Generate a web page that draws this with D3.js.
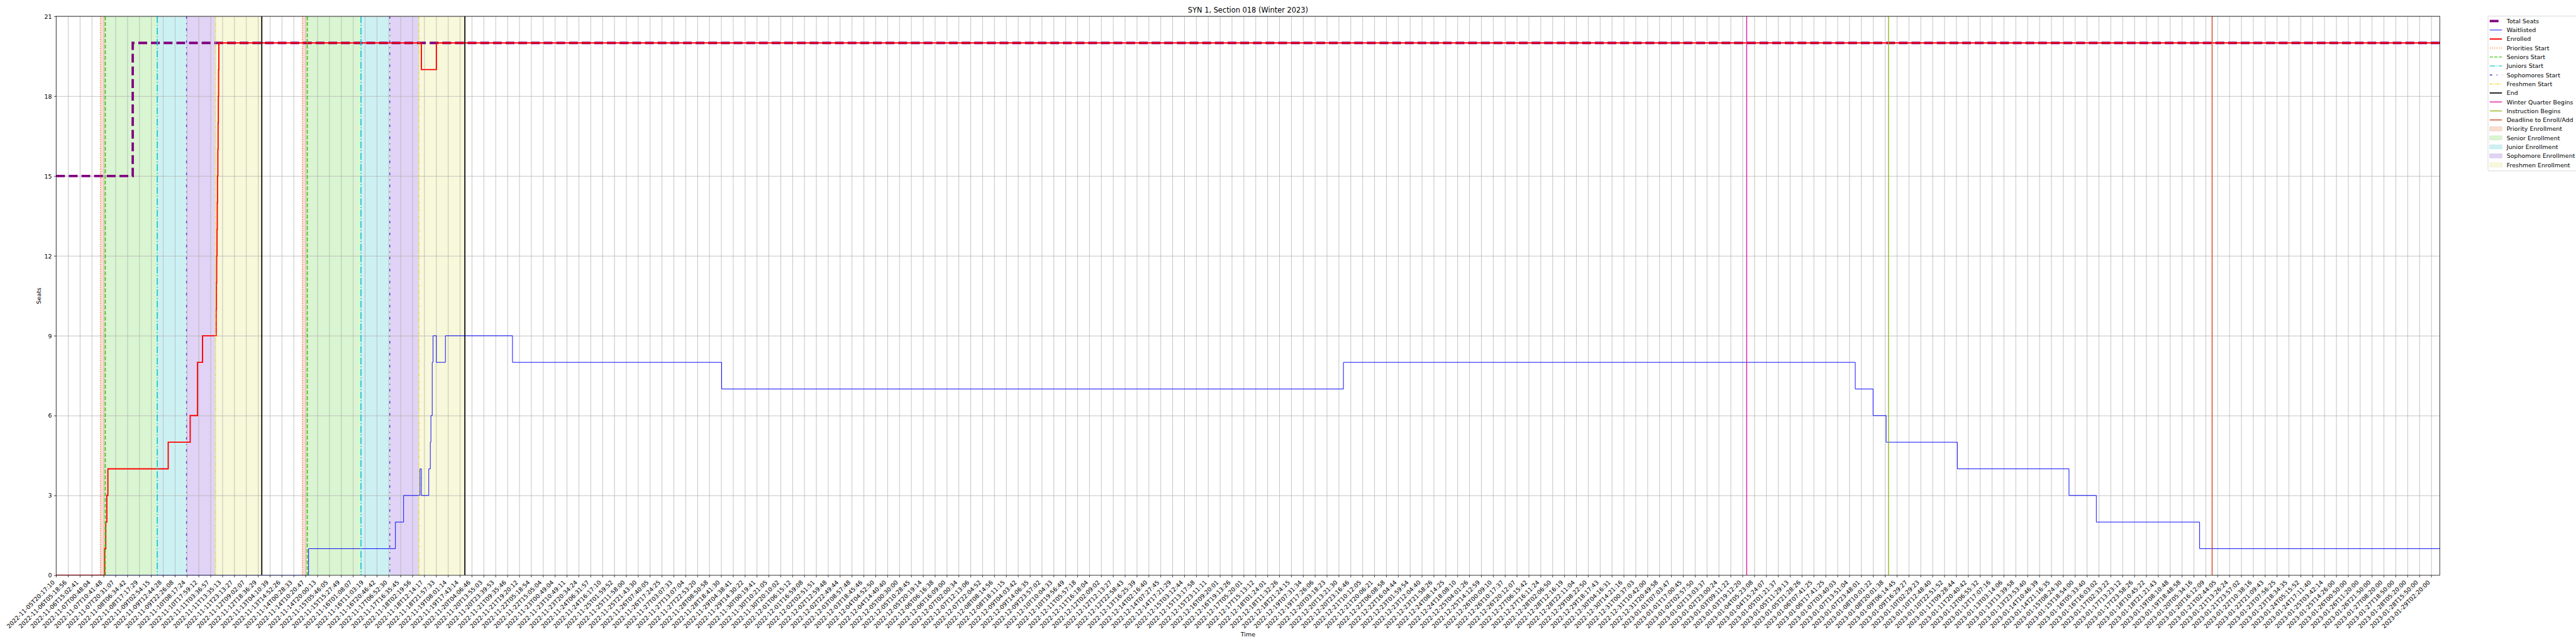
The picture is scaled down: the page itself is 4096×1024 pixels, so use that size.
<!DOCTYPE html>
<html><head><meta charset="utf-8">
<script src="https://cdn.jsdelivr.net/npm/d3@7"></script>
<style>body{margin:0;background:#fff}svg{display:block}text{font-family:"DejaVu Sans",sans-serif;fill:#000}</style>
</head><body><svg id="c" width="4096" height="1024"></svg>
<script>
// ---------------- data ----------------
const title = "SYN 1, Section 018 (Winter 2023)";
const tickLabels = [
"2022-11-05T20:17:10","2022-11-06T05:18:56","2022-11-06T15:02:41","2022-11-07T00:48:04","2022-11-07T10:41:48",
"2022-11-07T20:31:07","2022-11-08T06:34:42","2022-11-08T17:17:29","2022-11-09T02:54:15","2022-11-09T12:44:28",
"2022-11-09T22:26:08","2022-11-10T08:17:24","2022-11-10T17:59:12","2022-11-11T03:36:57","2022-11-11T13:35:13",
"2022-11-11T23:13:27","2022-11-12T09:02:07","2022-11-12T18:36:29","2022-11-13T04:10:39","2022-11-13T14:52:26",
"2022-11-14T00:28:33","2022-11-14T10:20:47","2022-11-14T20:00:13","2022-11-15T05:46:05","2022-11-15T15:27:49",
"2022-11-16T01:08:07","2022-11-16T11:03:19","2022-11-16T20:46:42","2022-11-17T06:52:30","2022-11-17T16:35:45",
"2022-11-18T02:19:56","2022-11-18T12:14:17","2022-11-18T21:57:33","2022-11-19T08:01:14","2022-11-19T17:43:14",
"2022-11-20T04:06:46","2022-11-20T13:55:03","2022-11-20T23:39:53","2022-11-21T09:35:46","2022-11-21T19:20:12",
"2022-11-22T05:18:54","2022-11-22T15:05:04","2022-11-23T00:49:04","2022-11-23T10:49:11","2022-11-23T20:34:24",
"2022-11-24T06:31:57","2022-11-24T16:17:10","2022-11-25T01:59:52","2022-11-25T11:58:00","2022-11-25T21:43:30",
"2022-11-26T07:40:05","2022-11-26T17:24:25","2022-11-27T03:07:33","2022-11-27T13:07:04","2022-11-27T22:53:20",
"2022-11-28T08:50:58","2022-11-28T18:41:30","2022-11-29T04:38:41","2022-11-29T14:30:22","2022-11-30T00:19:41",
"2022-11-30T10:21:05","2022-11-30T20:10:02","2022-12-01T06:15:12","2022-12-01T16:59:08","2022-12-02T02:51:51",
"2022-12-02T12:59:48","2022-12-02T22:49:44","2022-12-03T08:57:48","2022-12-03T18:45:46","2022-12-04T04:52:50",
"2022-12-04T14:40:40","2022-12-05T00:30:00","2022-12-05T10:28:45","2022-12-05T20:19:14","2022-12-06T06:16:38",
"2022-12-06T16:09:00","2022-12-07T02:00:34","2022-12-07T12:13:06","2022-12-07T22:04:52","2022-12-08T08:14:56",
"2022-12-08T18:11:15","2022-12-09T04:03:42","2022-12-09T14:06:35","2022-12-09T23:57:02","2022-12-10T10:04:33",
"2022-12-10T19:56:49","2022-12-11T05:57:18","2022-12-11T16:18:04","2022-12-12T02:09:02","2022-12-12T12:13:27",
"2022-12-12T22:58:43","2022-12-13T16:25:39","2022-12-14T02:16:40","2022-12-14T07:27:45","2022-12-14T17:21:29",
"2022-12-15T03:12:44","2022-12-15T13:17:58","2022-12-15T23:11:11","2022-12-16T09:20:01","2022-12-16T19:13:26",
"2022-12-17T05:20:01","2022-12-17T15:13:12","2022-12-18T01:24:01","2022-12-18T11:32:26","2022-12-18T21:24:15",
"2022-12-19T07:31:34","2022-12-19T17:26:06","2022-12-20T03:18:23","2022-12-20T13:21:30","2022-12-20T23:16:46",
"2022-12-21T10:12:05","2022-12-21T20:06:21","2022-12-22T06:08:58","2022-12-22T16:04:44","2022-12-23T01:59:54",
"2022-12-23T12:04:40","2022-12-23T21:58:26","2022-12-24T08:14:25","2022-12-24T18:08:10","2022-12-25T04:01:26",
"2022-12-25T14:12:59","2022-12-26T00:09:10","2022-12-26T10:17:37","2022-12-26T20:12:07","2022-12-27T06:15:42",
"2022-12-27T16:11:24","2022-12-28T02:06:50","2022-12-28T12:16:19","2022-12-28T22:11:04","2022-12-29T08:22:50",
"2022-12-29T18:17:43","2022-12-30T04:16:31","2022-12-30T14:21:16","2022-12-31T00:37:03","2022-12-31T10:42:00",
"2022-12-31T20:49:58","2023-01-01T07:03:47","2023-01-01T17:00:45","2023-01-02T02:57:50","2023-01-02T13:03:37",
"2023-01-02T23:00:24","2023-01-03T09:11:22","2023-01-03T19:12:20","2023-01-04T05:23:08","2023-01-04T15:24:07",
"2023-01-05T01:21:37","2023-01-05T11:29:13","2023-01-05T21:28:26","2023-01-06T07:41:25","2023-01-06T17:41:25",
"2023-01-07T03:40:03","2023-01-07T13:51:04","2023-01-07T23:48:01","2023-01-08T10:01:22","2023-01-08T20:01:38",
"2023-01-09T06:14:45","2023-01-09T16:29:27","2023-01-10T02:29:23","2023-01-10T12:48:40","2023-01-10T22:51:52",
"2023-01-11T09:28:44","2023-01-11T20:40:42","2023-01-12T06:55:32","2023-01-12T17:07:16","2023-01-13T03:14:06",
"2023-01-13T13:39:58","2023-01-13T23:53:40","2023-01-14T10:46:39","2023-01-14T21:16:35","2023-01-15T08:24:30",
"2023-01-15T18:54:00","2023-01-16T05:33:40","2023-01-16T16:03:02","2023-01-17T02:33:22","2023-01-17T13:23:12",
"2023-01-17T23:58:26","2023-01-18T10:45:22","2023-01-18T21:21:43","2023-01-19T08:10:48","2023-01-19T18:48:58",
"2023-01-20T05:34:16","2023-01-20T16:12:09","2023-01-21T02:44:05","2023-01-21T13:26:24","2023-01-21T23:57:02",
"2023-01-22T10:38:16","2023-01-22T21:09:43","2023-01-23T07:56:25","2023-01-23T18:34:35","2023-01-24T05:15:52",
"2023-01-24T17:11:40","2023-01-25T03:42:14","2023-01-25T14:26:00","2023-01-26T00:50:00","2023-01-26T11:20:00",
"2023-01-26T21:50:00","2023-01-27T08:20:00","2023-01-27T18:50:00","2023-01-28T05:20:00","2023-01-28T15:50:00",
"2023-01-29T02:20:00"
];
const xLimit = [0, 200.73];           // category-index range of the x axis
const yTicks = [0, 3, 6, 9, 12, 15, 18, 21];
const yLimit = [0, 21];

// series: x in category-index units, value in seats (step after)
const totalSeatsX = [0, 6.45];
const totalSeatsY = [15, 20];
const waitlistedX = [0, 21.26, 28.57, 29.26, 30.64, 30.76, 31.38, 31.51, 31.56, 31.67, 31.74, 32.02, 32.78, 38.43, 56.04, 108.4, 151.5, 153.0, 154.1, 160.1, 169.5, 171.8, 180.5];
const waitlistedY = [0, 1, 2, 3, 4, 3, 4, 5, 6, 8, 9, 8, 9, 8, 7, 8, 7, 6, 5, 4, 3, 2, 1];
const enrolledX = [0, 4.09, 4.18, 4.27, 4.36, 9.44, 11.29, 11.91, 12.33, 13.48, 13.50, 13.52, 13.55, 13.57, 13.59, 13.62, 13.64, 13.66, 13.68, 13.70, 30.76, 32.02];
const enrolledY = [0, 1, 2, 3, 4, 5, 6, 8, 9, 10, 11, 12, 13, 14, 15, 16, 17, 18, 19, 20, 19, 20];

// enrollment-pass events (two passes)
const prioritiesStart = [3.73, 20.73];
const seniorsStart    = [4.14, 21.15];
const juniorsStart    = [8.52, 25.67];
const sophomoresStart = [10.98, 28.10];
const freshmenStart   = [13.43, 30.56];
const passEnd         = [17.32, 34.42];
const winterQuarterBegins = [142.36];
const instructionBegins   = [154.30];
const deadlineToEnroll    = [181.55];

// ---------------- styles ----------------
const C = {
  total:'#800080', wait:'#0000ff', enr:'#ff0000',
  pri:'#f46a32', sen:'#3ec91a', jun:'#12c8d0', sop:'#6a2ad8', fre:'#e0e030',
  end:'#000000', wq:'#e0169c', ib:'#8fb714', dl:'#d2421c',
  priF:'#f8ddd1', senF:'#d9f5d1', junF:'#cdf1f3', sopF:'#e0d3f5', freF:'#f8f8da'
};
const S = 4096/6000;
const svg = d3.select('#c');
const g = svg.append('g').attr('transform', `scale(${S})`);
const M = {left:130.7, right:5683, top:38, bottom:1340};
const x = d3.scaleLinear().domain(xLimit).range([M.left, M.right]);
const y = d3.scaleLinear().domain(yLimit).range([M.bottom, M.top]);

g.append('clipPath').attr('id','clip').append('rect')
  .attr('x',M.left).attr('y',M.top).attr('width',M.right-M.left).attr('height',M.bottom-M.top);
const plot = g.append('g').attr('clip-path','url(#clip)');

// spans
const spans = [
  [prioritiesStart, seniorsStart, C.priF],
  [seniorsStart, juniorsStart, C.senF],
  [juniorsStart, sophomoresStart, C.junF],
  [sophomoresStart, freshmenStart, C.sopF],
  [freshmenStart, passEnd, C.freF]
];
spans.forEach(([a,b,col]) => a.forEach((v,i) => {
  plot.append('rect').attr('x', x(v)).attr('width', x(b[i]) - x(v))
    .attr('y', M.top).attr('height', M.bottom - M.top).attr('fill', col);
}));

// grid
const tickIdx = d3.range(tickLabels.length);
plot.append('g').attr('transform',`translate(0,${M.bottom})`)
  .call(d3.axisBottom(x).tickValues(tickIdx).tickSize(-(M.bottom-M.top)).tickFormat(''))
  .call(s=>{s.select('.domain').remove(); s.selectAll('line').attr('stroke','#b0b0b0').attr('stroke-width',1.1);});
plot.append('g').attr('transform',`translate(${M.left},0)`)
  .call(d3.axisLeft(y).tickValues(yTicks).tickSize(-(M.right-M.left)).tickFormat(''))
  .call(s=>{s.select('.domain').remove(); s.selectAll('line').attr('stroke','#b0b0b0').attr('stroke-width',1.1);});

// series
const line = d3.line().x(d=>x(d[0])).y(d=>y(d[1])).curve(d3.curveStepAfter);
function series(xs, ys){ const p = xs.map((v,i)=>[v, ys[i]]); p.push([xLimit[1], ys[ys.length-1]]); return p; }
plot.append('path').attr('d', line(series(totalSeatsX,totalSeatsY))).attr('fill','none')
  .attr('stroke',C.total).attr('stroke-width',5.56).attr('stroke-dasharray','20.6,8.9');
plot.append('path').attr('d', line(series(waitlistedX,waitlistedY))).attr('fill','none')
  .attr('stroke',C.wait).attr('stroke-width',1.39);
plot.append('path').attr('d', line(series(enrolledX,enrolledY))).attr('fill','none')
  .attr('stroke',C.enr).attr('stroke-width',2.78);

// event lines
const evStyles = [
  [prioritiesStart, C.pri, 2, '2,3.3'],
  [seniorsStart, C.sen, 2.5, '9.2,4'],
  [juniorsStart, C.jun, 2.5, '16,4,2.5,4'],
  [sophomoresStart, C.sop, 2, '6,10,2,10'],
  [freshmenStart, C.fre, 2, '6,2,2,2,2,2'],
  [passEnd, C.end, 2.5, null],
  [winterQuarterBegins, C.wq, 2, null],
  [instructionBegins, C.ib, 2, null],
  [deadlineToEnroll, C.dl, 2, null]
];
evStyles.forEach(([arr,col,w,dash]) => arr.forEach(v => {
  const l = plot.append('line').attr('x1',x(v)).attr('x2',x(v)).attr('y1',M.top).attr('y2',M.bottom)
    .attr('stroke',col).attr('stroke-width',w);
  if (dash) l.attr('stroke-dasharray',dash);
}));

// axes
const xa = g.append('g').attr('transform',`translate(0,${M.bottom})`)
  .call(d3.axisBottom(x).tickValues(tickIdx).tickFormat(i=>tickLabels[i]).tickSize(4.9).tickSizeOuter(0));
xa.select('.domain').remove();
xa.selectAll('line').attr('stroke','#000').attr('stroke-width',1.1);
xa.selectAll('text').attr('y',0).attr('dy',0).attr('x',0)
  .attr('text-anchor','end').attr('font-size',13.9)
  .attr('transform','translate(-2.5,17.5) rotate(-45)');
const ya = g.append('g').attr('transform',`translate(${M.left},0)`)
  .call(d3.axisLeft(y).tickValues(yTicks).tickSize(4.9).tickPadding(4.9).tickSizeOuter(0));
ya.select('.domain').remove();
ya.selectAll('line').attr('stroke','#000').attr('stroke-width',1.1);
ya.selectAll('text').attr('font-size',13.9).attr('dy','0.35em');

// frame
g.append('rect').attr('x',M.left).attr('y',M.top).attr('width',M.right-M.left).attr('height',M.bottom-M.top)
  .attr('fill','none').attr('stroke','#000').attr('stroke-width',1.1);

// labels
g.append('text').attr('x',(M.left+M.right)/2).attr('y',29.7).attr('text-anchor','middle').attr('font-size',16.7).text(title);
g.append('text').attr('x',(M.left+M.right)/2).attr('y',1482).attr('text-anchor','middle').attr('font-size',13.9).text('Time');
g.append('text').attr('transform','translate(95,689) rotate(-90)').attr('text-anchor','middle').attr('font-size',13.9).text('Seats');

// legend
const legItems = [
  ['line','Total Seats',C.total,5.56,null],
  ['line','Waitlisted',C.wait,1.39,null],
  ['line','Enrolled',C.enr,2.78,null],
  ['line','Priorities Start',C.pri,2,'2,3.3'],
  ['line','Seniors Start',C.sen,2,'7.4,3.2'],
  ['line','Juniors Start',C.jun,2,'12.8,3.2,2,3.2'],
  ['line','Sophomores Start',C.sop,2,'6,10,2,10'],
  ['line','Freshmen Start',C.fre,2,'6,2,2,2,2,2'],
  ['line','End',C.end,2.5,null],
  ['line','Winter Quarter Begins',C.wq,2,null],
  ['line','Instruction Begins',C.ib,2,null],
  ['line','Deadline to Enroll/Add',C.dl,2,null],
  ['patch','Priority Enrollment',C.priF],
  ['patch','Senior Enrollment',C.senF],
  ['patch','Junior Enrollment',C.junF],
  ['patch','Sophomore Enrollment',C.sopF],
  ['patch','Freshmen Enrollment',C.freF]
];
const lg = g.append('g');
lg.append('rect').attr('x',5795).attr('y',37.5).attr('width',230).attr('height',360.5).attr('rx',3)
  .attr('fill','#fff').attr('fill-opacity',0.8).attr('stroke','#cccccc').attr('stroke-width',1.1);
legItems.forEach((it,i)=>{
  const cy = 49 + i*20.94;
  if (it[0]==='line') {
    const l = lg.append('line').attr('x1',5799).attr('x2',5827.5).attr('y1',cy).attr('y2',cy)
      .attr('stroke',it[2]).attr('stroke-width',it[3]);
    if (it[1]==='Total Seats') l.attr('stroke-dasharray','20.6,8.9');
    else if (it[4]) l.attr('stroke-dasharray',it[4]);
  } else {
    lg.append('rect').attr('x',5799).attr('y',cy-4.9).attr('width',28.5).attr('height',9.7)
      .attr('fill',it[2]).attr('stroke',d3.color(it[2]).darker(0.15)).attr('stroke-width',1);
  }
  lg.append('text').attr('x',5838.5).attr('y',cy).attr('dy','0.36em').attr('font-size',13.9).text(it[1]);
});
</script></body></html>
